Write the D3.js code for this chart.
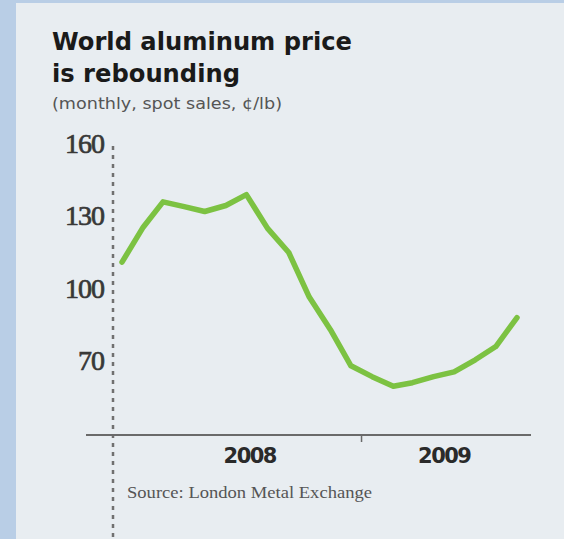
<!DOCTYPE html>
<html>
<head>
<meta charset="utf-8">
<script src="https://cdn.jsdelivr.net/npm/d3@7"></script>
<style>
  html, body { margin: 0; padding: 0; background: #b9cee6; }
  svg { display: block; }
</style>
</head>
<body>
<svg id="chart" width="564" height="539"></svg>
<script>
// Monthly LME aluminum spot price, cents per pound
const months = ["2008-01","2008-02","2008-03","2008-04","2008-05","2008-06","2008-07","2008-08",
                "2008-09","2008-10","2008-11","2008-12","2009-01","2009-02","2009-03","2009-04",
                "2009-05","2009-06","2009-07","2009-08"];
const prices = [111, 125.5, 136, 134, 132, 134.5, 139, 125, 115, 96.5, 83, 68, 63.5, 59.5, 61, 63.5, 65.5, 70.5, 76, 88];
const yTicks = [70, 100, 130, 160];
const yearLabels = ["2008", "2009"];

const svg = d3.select("#chart");
const W = 564, H = 539;

// Light panel
svg.append("rect").attr("x", 16).attr("y", 3).attr("width", W - 16).attr("height", H - 3)
  .attr("fill", "#e8edf1");

const parse = d3.timeParse("%Y-%m");
const dates = months.map(parse);

const x = d3.scaleTime()
  .domain([parse("2008-01"), parse("2009-08")])
  .range([122, 517]);
const y = d3.scaleLinear().domain([70, 160]).range([361, 144]);

// Squeeze or stretch a text run to a given width
function fitWidth(sel, w) {
  sel.attr("textLength", w).attr("lengthAdjust", "spacingAndGlyphs");
  return sel;
}

const sans = "'DejaVu Sans', Lato, sans-serif";
const serif = "'Liberation Serif', 'Times New Roman', serif";

// Title block
fitWidth(svg.append("text").attr("x", 52).attr("y", 50)
  .attr("font-family", sans).attr("font-weight", "bold")
  .attr("font-size", 25).attr("fill", "#1a1a1a")
  .text("World aluminum price"), 300);
fitWidth(svg.append("text").attr("x", 52).attr("y", 82)
  .attr("font-family", sans).attr("font-weight", "bold")
  .attr("font-size", 25).attr("fill", "#1a1a1a")
  .text("is rebounding"), 188);
fitWidth(svg.append("text").attr("x", 52).attr("y", 109)
  .attr("font-family", sans)
  .attr("font-size", 15).attr("fill", "#555")
  .text("(monthly, spot sales, \u00a2/lb)"), 230);

// Dashed vertical axis
svg.append("line").attr("x1", 113).attr("x2", 113).attr("y1", 146).attr("y2", H)
  .attr("stroke", "#707070").attr("stroke-width", 2.5).attr("stroke-dasharray", "4,5");

// Y tick labels
svg.append("g").selectAll("text").data(yTicks).join("text")
  .attr("x", 104).attr("y", d => y(d) + 9)
  .attr("text-anchor", "end")
  .attr("font-family", serif)
  .attr("font-size", 28).attr("fill", "#383838")
  .attr("stroke", "#383838").attr("stroke-width", 0.7)
  .attr("letter-spacing", -1)
  .text(d => d);

// Horizontal baseline with a year divider
const baseY = 435;
svg.append("line").attr("x1", 86).attr("x2", 531).attr("y1", baseY).attr("y2", baseY)
  .attr("stroke", "#6a6a6a").attr("stroke-width", 2);
const divider = (x(parse("2008-12")) + x(parse("2009-01"))) / 2;
svg.append("line").attr("x1", divider).attr("x2", divider).attr("y1", baseY).attr("y2", baseY + 7)
  .attr("stroke", "#6a6a6a").attr("stroke-width", 1.5);

// Year labels
const yearCenters = [
  (x(parse("2008-01")) + divider) / 2 + 8,
  (divider + x(parse("2009-08"))) / 2 + 5
];
svg.append("g").selectAll("text").data(yearLabels).join("text")
  .attr("x", (d, i) => yearCenters[i]).attr("y", 463)
  .attr("text-anchor", "middle")
  .attr("font-family", sans).attr("font-weight", "bold")
  .attr("font-size", 21).attr("fill", "#2a2a2a")
  .attr("letter-spacing", -1.5)
  .text(d => d);

// Price line
const line = d3.line().x((d, i) => x(dates[i])).y(d => y(d));
svg.append("path").datum(prices)
  .attr("d", line)
  .attr("fill", "none").attr("stroke", "#7cc242").attr("stroke-width", 5.5)
  .attr("stroke-linejoin", "round").attr("stroke-linecap", "round");

// Source note
fitWidth(svg.append("text").attr("x", 127).attr("y", 498)
  .attr("font-family", serif)
  .attr("font-size", 17).attr("fill", "#555")
  .text("Source: London Metal Exchange"), 245);
</script>
</body>
</html>
